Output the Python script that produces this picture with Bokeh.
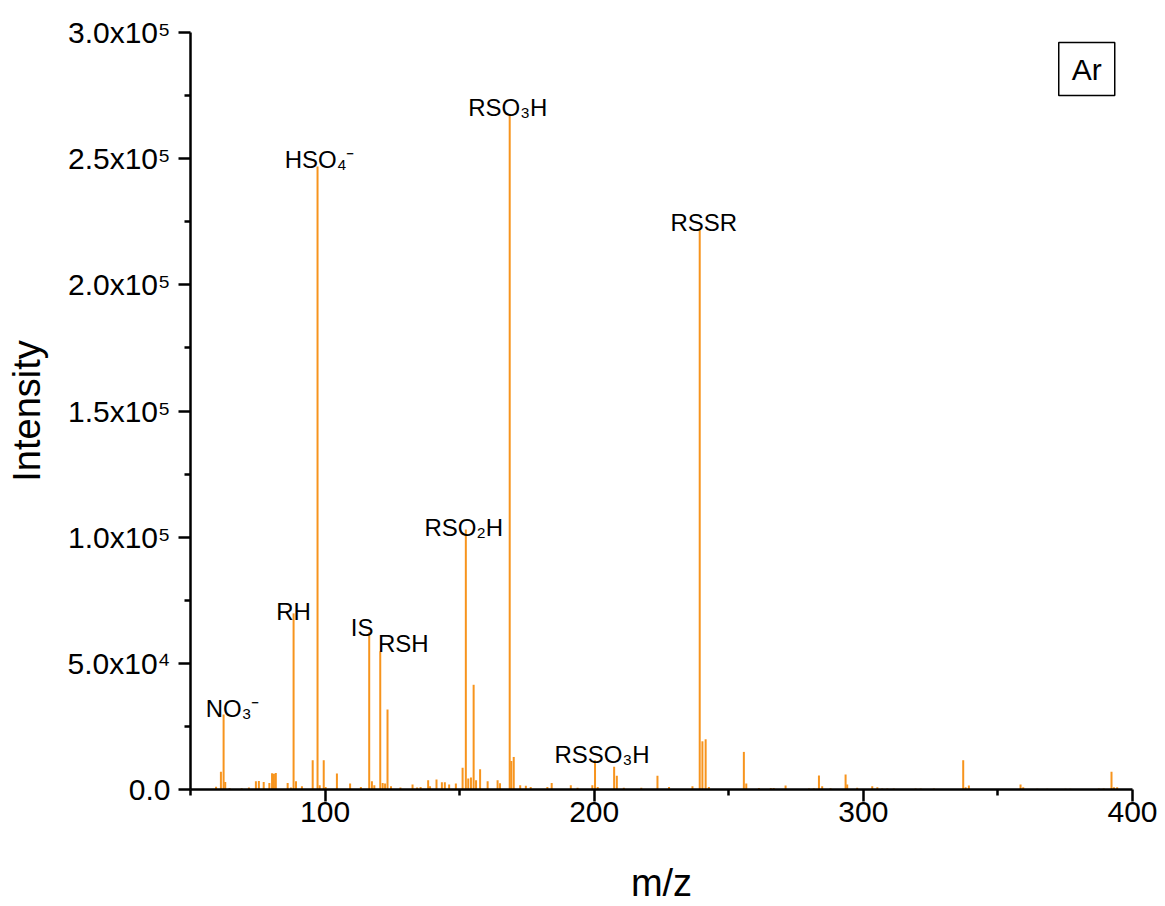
from bokeh.plotting import figure
from bokeh.models import ColumnDataSource, FixedTicker, Range1d, Label
from bokeh.core.properties import value
from bokeh.embed import file_html
from bokeh.resources import INLINE

# ---------------- data ----------------
mz = [59.5, 61.3, 62.3, 62.9, 64.5, 69.0, 71.7, 74.3, 75.4, 77.2,
      79.3, 80.3, 81.0, 81.7, 86.1, 87.3, 88.3, 89.2, 91.4, 95.4,
      97.2, 98.0, 99.5, 100.2, 104.4, 109.3, 113.3, 116.4, 117.4, 118.3,
      120.5, 121.4, 122.3, 123.2, 124.5, 128.0, 132.5, 134.2, 135.5, 138.3,
      139.0, 141.4, 143.4, 144.5, 146.1, 148.6, 151.1, 152.3, 153.2, 154.2,
      155.2, 156.1, 157.6, 160.4, 164.1, 165.0, 168.6, 169.2, 170.1, 172.5,
      174.6, 176.4, 182.6, 184.2, 191.3, 193.8, 199.3, 200.3, 201.3, 207.4,
      208.4, 211.0, 217.5, 223.5, 227.8, 236.5, 239.2, 240.2, 241.4, 242.6,
      255.6, 256.5, 261.2, 265.6, 266.7, 271.1, 279.8, 281.6, 283.5, 284.7,
      287.8, 293.4, 294.0, 297.7, 303.3, 305.2, 307.0, 308.9, 311.3, 319.4,
      321.3, 326.2, 337.1, 338.0, 339.2, 358.4, 359.4, 364.6, 368.3, 375.1,
      376.9, 387.5, 389.3, 392.2, 393.1, 394.3]

intensity_k = [1.1, 7.0, 29.7, 3.0, 0.6, 0.5, 0.8, 3.3, 3.4, 3.0,
               2.6, 6.4, 6.2, 6.5, 2.6, 0.8, 69.8, 3.3, 1.3, 11.6,
               246.9, 1.7, 11.6, 1.0, 6.3, 2.4, 1.0, 62.3, 3.3, 1.7,
               54.7, 2.6, 2.4, 31.7, 1.3, 0.8, 2.0, 0.8, 1.0, 3.7,
               1.3, 4.0, 2.9, 2.9, 2.0, 2.4, 8.6, 103.0, 4.4, 4.8,
               41.5, 3.7, 8.0, 3.3, 3.7, 2.5, 267.5, 11.3, 12.9, 1.7,
               1.5, 1.0, 1.0, 2.6, 1.7, 0.7, 1.7, 11.6, 1.0, 9.0,
               5.4, 0.7, 0.7, 5.4, 1.0, 1.3, 222.4, 19.1, 19.9, 1.0,
               14.9, 2.4, 0.6, 0.6, 0.6, 1.6, 0.4, 0.4, 5.5, 1.3,
               0.5, 5.9, 2.0, 0.7, 1.3, 0.9, 0.4, 0.4, 0.4, 0.4,
               0.4, 0.4, 11.6, 0.9, 1.6, 2.0, 0.9, 0.3, 0.3, 0.3,
               0.3, 0.4, 0.4, 7.0, 0.9, 0.9]
assert len(mz) == len(intensity_k)
intensity = [v * 1000 for v in intensity_k]

peak_labels = ["NO₃⁻", "RH", "HSO₄⁻", "IS", "RSH", "RSO₂H", "RSO₃H", "RSSO₃H", "RSSR"]
peak_label_mz = [62.3, 88.3, 97.2, 116.4, 120.5, 152.3, 168.6, 200.3, 239.2]

x_ticks = [100, 200, 300, 400]
x_minor = [50, 150, 250, 350]
y_ticks = [0, 50000, 100000, 150000, 200000, 250000, 300000]
y_tick_labels = ["0.0", "5.0x10⁴", "1.0x10⁵", "1.5x10⁵", "2.0x10⁵", "2.5x10⁵", "3.0x10⁵"]
y_minor = [25000, 75000, 125000, 175000, 225000, 275000]

x_title = "m/z"
y_title = "Intensity"
panel_tag = "Ar"

# ---------------- styling ----------------
FONT = "Liberation Sans"
ORANGE = "#F7941D"
label_dx = [9, 0, 2, -7, 23, -2, -2, 7, 4]
label_dy = [-6, -2, -7, -5, -8, -2, -7, -6, -6]

lookup = dict(zip(mz, intensity))
label_src = ColumnDataSource(dict(
    x=peak_label_mz,
    y=[lookup[m] for m in peak_label_mz],
    text=peak_labels,
    dx=label_dx,
    dy=label_dy,
))

p = figure(width=1160, height=906, output_backend="svg", toolbar_location=None,
           x_range=Range1d(50, 400), y_range=Range1d(0, 300000),
           min_border_left=190, min_border_right=28, min_border_top=32,
           min_border_bottom=116)
p.outline_line_color = None
p.xgrid.visible = False
p.ygrid.visible = False
p.background_fill_color = "white"
p.border_fill_color = "white"

src = ColumnDataSource(dict(x=mz, y=intensity, y0=[0] * len(mz)))
p.segment(x0="x", y0="y0", x1="x", y1="y", source=src,
          line_color=ORANGE, line_width=2)

p.text(x="x", y="y", text="text", x_offset="dx", y_offset="dy", source=label_src,
       text_font=value(FONT), text_font_size="24px", text_color="black",
       text_align="center", text_baseline="alphabetic")

for ax in (p.xaxis[0], p.yaxis[0]):
    ax.axis_line_width = 2.5
    ax.major_tick_line_width = 2.5
    ax.minor_tick_line_width = 2.5
    ax.major_tick_out = 12
    ax.major_tick_in = 0
    ax.minor_tick_out = 6
    ax.minor_tick_in = 0
    ax.major_label_text_font = FONT
    ax.major_label_text_font_size = "30px"
    ax.major_label_text_color = "black"
    ax.axis_label_text_font = FONT
    ax.axis_label_text_font_style = "normal"
    ax.axis_label_text_color = "black"
    ax.axis_label_text_font_size = "38px"

p.xaxis[0].ticker = FixedTicker(ticks=x_ticks, minor_ticks=x_minor)
p.yaxis[0].ticker = FixedTicker(ticks=y_ticks, minor_ticks=y_minor)
p.yaxis[0].major_label_overrides = dict(zip(y_ticks, y_tick_labels))
p.xaxis[0].axis_label = x_title
p.yaxis[0].axis_label = y_title
p.xaxis[0].major_label_standoff = 0
p.yaxis[0].major_label_standoff = 8
p.xaxis[0].axis_label_standoff = 37
p.yaxis[0].axis_label_standoff = 17

tag = Label(x=383, y=285500, text=panel_tag, text_align="center", text_baseline="middle",
            text_font=FONT, text_font_size="30px", text_color="black",
            border_line_color="black", border_line_width=1.5,
            background_fill_color="white", padding=dict(x=13, y=10))
p.add_layout(tag)

open("out.html", "w").write(file_html(p, INLINE))
